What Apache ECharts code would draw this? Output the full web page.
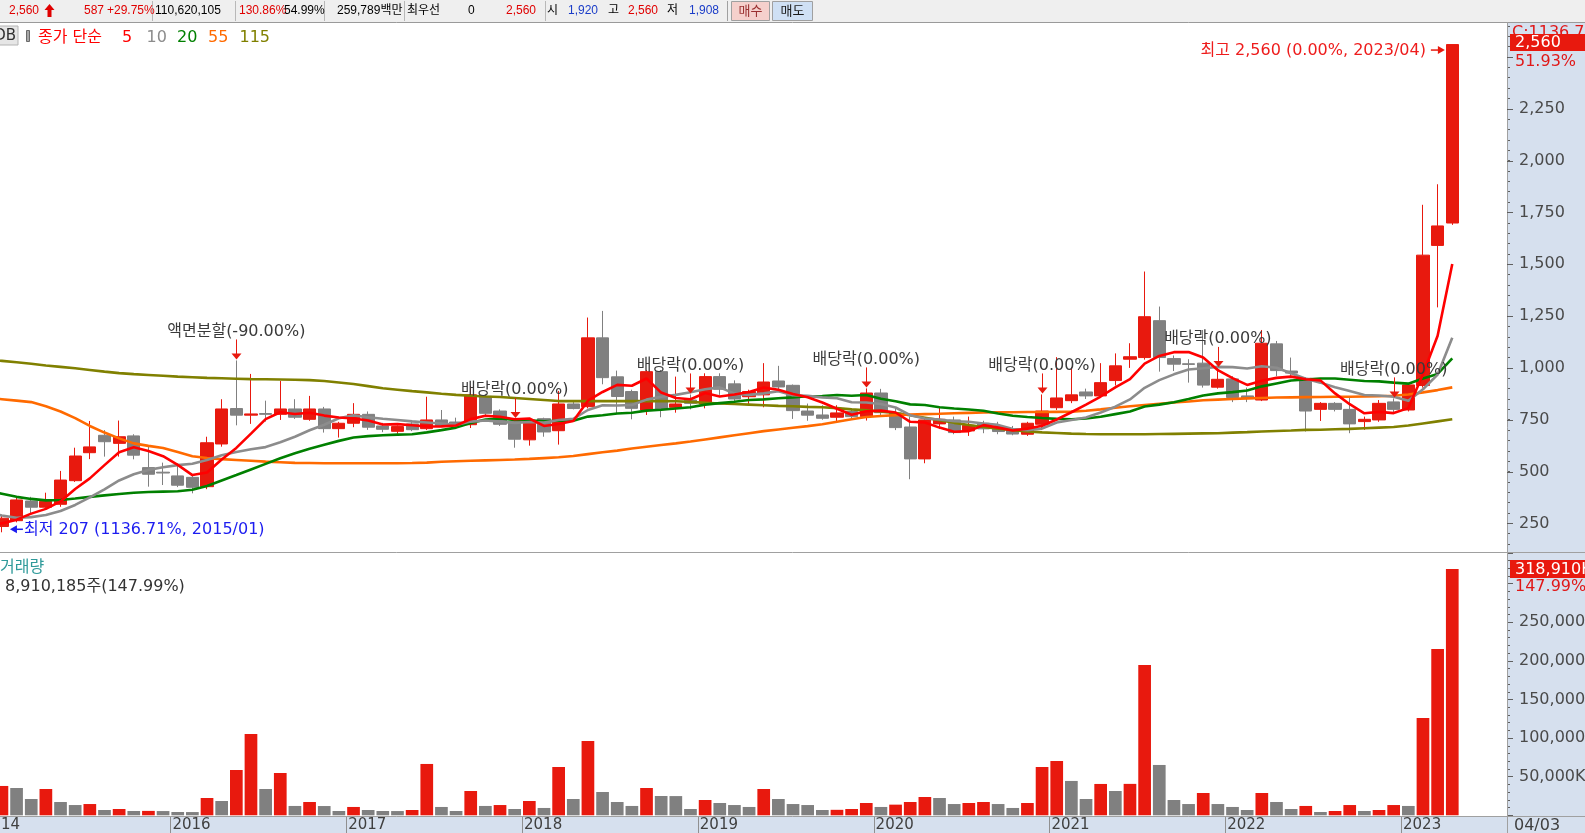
<!DOCTYPE html>
<html>
<head>
<meta charset="utf-8">
<title>월봉 차트</title>
<script src="https://cdn.jsdelivr.net/npm/echarts@6.0.0/dist/echarts.min.js"></script>
<style>
  html, body { margin: 0; padding: 0; background: #fff; overflow: hidden; }
  #chart { width: 1585px; height: 833px; }
</style>
</head>
<body>
<div id="chart"></div>
<script>
// monthly slots; 2014/12 sits just off the left edge (only its year label shows)
const months = ['2014/12'];
for (let y = 2015; y <= 2023; y++) {
  for (let m = 1; m <= 12; m++) {
    if (y === 2023 && m > 4) break;
    months.push(y + '/' + (m < 10 ? '0' + m : m));
  }
}
const emptySlots = [' ', '  ', '   '];

// candles, one row per year (2015 .. 2023/04)
const open = [null,
  235, 263, 358, 328, 342, 456, 591, 675, 636, 672, 519, 497,
  479, 472, 427, 633, 804, 772, 780, 776, 802, 752, 802, 707,
  733, 776, 720, 694, 730, 707, 749, 739, 726, 863, 792, 741,
  653, 755, 697, 826, 813, 1145, 957, 886, 797, 982, 810, 845,
  826, 958, 923, 861, 870, 937, 916, 792, 773, 762, 790, 765,
  879, 783, 715, 561, 730, 749, 696, 733, 717, 704, 680, 728,
  808, 842, 884, 865, 939, 1042, 1050, 1228, 1045, 1020, 1023, 907,
  947, 865, 845, 1116, 985, 950, 800, 829, 800, 741, 749, 836,
  797, 915, 1591, 1699];
const close = [null,
  275, 363, 328, 356, 459, 575, 619, 644, 668, 579, 487, 493,
  434, 424, 639, 802, 772, 778, 776, 802, 762, 802, 707, 733,
  776, 714, 704, 717, 702, 749, 720, 723, 870, 781, 728, 656,
  744, 691, 826, 804, 1145, 953, 862, 805, 982, 802, 826, 829,
  958, 897, 850, 886, 932, 908, 794, 772, 757, 783, 765, 879,
  784, 712, 561, 749, 752, 688, 723, 706, 693, 681, 733, 792,
  855, 870, 865, 929, 1010, 1054, 1247, 1050, 1018, 1017, 917, 945,
  857, 852, 1119, 987, 975, 792, 829, 800, 730, 752, 829, 800,
  918, 1544, 1685, 2560];
const low = [null,
  207, 255, 300, 315, 330, 450, 560, 572, 572, 559, 427, 435,
  425, 395, 415, 620, 723, 730, 741, 749, 754, 745, 688, 664,
  714, 701, 690, 682, 695, 700, 715, 715, 710, 770, 720, 615,
  625, 668, 630, 800, 805, 921, 781, 752, 773, 762, 784, 800,
  805, 870, 830, 820, 810, 890, 754, 745, 750, 740, 755, 746,
  770, 700, 463, 540, 705, 680, 672, 685, 680, 675, 672, 701,
  797, 830, 850, 855, 915, 1000, 1040, 982, 985, 929, 905, 900,
  835, 835, 840, 960, 960, 693, 744, 790, 685, 701, 740, 778,
  790, 905, 1292, 1690];
const high = [null,
  290, 382, 378, 398, 503, 615, 744, 700, 746, 680, 620, 543,
  540, 485, 668, 849, 1036, 971, 842, 937, 849, 865, 812, 740,
  830, 790, 735, 722, 740, 861, 797, 760, 913, 875, 800, 753,
  750, 760, 889, 835, 1243, 1275, 987, 895, 990, 990, 958, 872,
  974, 974, 940, 895, 1023, 1010, 920, 828, 820, 820, 805, 901,
  899, 810, 765, 755, 813, 765, 765, 745, 740, 720, 740, 872,
  1052, 1003, 900, 1023, 1070, 1119, 1465, 1296, 1060, 1042, 1183, 1000,
  960, 905, 1183, 1130, 1050, 955, 835, 835, 861, 765, 845, 853,
  925, 1787, 1886, 2560];

// volume in thousand shares (K)
const volume = [null,
  38000, 35400, 21100, 34100, 17200, 13300, 14600, 6900, 8200, 5600, 5700, 5500,
  4300, 4200, 22400, 18500, 58700, 105300, 34100, 54800, 12100, 17200, 12000, 5600,
  10800, 6900, 5600, 5500, 6900, 66500, 10800, 5600, 31500, 12100, 13300, 8200,
  18500, 9500, 62600, 21100, 96300, 30200, 17200, 12100, 35400, 25000, 24900, 8200,
  19800, 15900, 13300, 10800, 34100, 21100, 14600, 13300, 6900, 7100, 8200, 15900,
  10800, 13800, 17200, 23700, 22400, 14600, 15900, 17200, 14600, 9500, 15900, 62600,
  70300, 44500, 21100, 40600, 31500, 40700, 194700, 65200, 19800, 14600, 28900, 14600,
  10800, 6900, 28900, 17200, 8200, 12100, 4300, 5600, 13300, 5600, 6900, 13300,
  12100, 126000, 215400, 318910];

// moving averages (first value = 2014/12)
const ma5 = [245,
  250, 268, 297, 320, 356, 416, 467, 531, 593, 617, 599, 574,
  532, 483, 495, 558, 614, 683, 753, 786, 778, 784, 770, 761,
  756, 746, 727, 729, 723, 717, 718, 722, 753, 769, 764, 752,
  756, 720, 729, 744, 842, 884, 918, 914, 949, 881, 855, 849,
  879, 862, 872, 884, 905, 895, 874, 858, 833, 803, 774, 791,
  794, 785, 740, 737, 712, 692, 695, 724, 712, 698, 707, 721,
  751, 786, 823, 862, 906, 946, 1021, 1058, 1076, 1077, 1050, 989,
  951, 918, 938, 952, 958, 945, 940, 877, 825, 781, 788, 782,
  806, 969, 1155, 1501];
const ma10 = [300,
  288, 277, 280, 290, 310, 339, 375, 414, 457, 487, 508, 521,
  531, 538, 556, 579, 594, 608, 618, 641, 668, 699, 726, 757,
  771, 762, 755, 749, 742, 737, 732, 725, 741, 746, 741, 735,
  739, 736, 749, 754, 797, 820, 819, 821, 847, 861, 870, 883,
  897, 906, 876, 870, 877, 887, 868, 865, 858, 854, 834, 833,
  826, 809, 772, 756, 751, 743, 740, 732, 725, 705, 700, 708,
  737, 749, 761, 785, 813, 848, 904, 941, 969, 992, 998, 1005,
  1004, 997, 1008, 1001, 974, 948, 929, 907, 889, 869, 867, 861,
  841, 897, 968, 1145];
const ma20 = [405,
  393, 378, 368, 361, 363, 370, 378, 385, 392, 398, 401, 403,
  405, 412, 430, 457, 483, 510, 537, 564, 588, 610, 629, 648,
  664, 671, 675, 678, 680, 689, 700, 712, 734, 751, 756, 749,
  747, 743, 745, 745, 765, 772, 780, 784, 794, 798, 804, 810,
  823, 830, 837, 845, 848, 854, 858, 863, 864, 869, 866, 869,
  851, 839, 824, 821, 810, 804, 799, 793, 780, 769, 763, 758,
  754, 752, 756, 764, 777, 790, 814, 823, 834, 850, 867, 877,
  883, 891, 911, 925, 939, 944, 949, 949, 943, 937, 935, 929,
  924, 949, 971, 1046];
const ma55 = [855,
  849, 842, 835, 815, 790, 758, 720, 688, 660, 636, 624, 614,
  594, 574, 565, 560, 556, 552, 548, 545, 542, 541, 540, 540,
  540, 540, 540, 540, 541, 543, 547, 550, 552, 554, 556, 558,
  561, 565, 569, 575, 584, 593, 601, 611, 620, 628, 636, 645,
  655, 665, 675, 685, 695, 703, 711, 719, 728, 740, 752, 763,
  768, 772, 775, 777, 779, 781, 783, 785, 786, 786, 787, 787,
  788, 789, 793, 800, 808, 815, 821, 827, 833, 838, 844, 847,
  850, 853, 855, 857, 858, 859, 860, 861, 861, 862, 863, 866,
  872, 882, 893, 906];
const ma115 = [1040,
  1034, 1027, 1020, 1012, 1005, 998, 990, 982, 975, 970, 966, 962,
  958, 955, 952, 950, 948, 946, 945, 944, 943, 941, 937, 930,
  922, 912, 902, 895, 888, 882, 875, 870, 866, 862, 860, 855,
  850, 845, 840, 840, 840, 840, 840, 840, 840, 840, 839, 836,
  832, 828, 826, 823, 820, 817, 815, 812, 810, 806, 800, 795,
  790, 782, 772, 760, 748, 735, 725, 715, 707, 700, 694, 689,
  686, 683, 681, 680, 680, 680, 680, 681, 682, 683, 684, 685,
  688, 690, 693, 696, 698, 701, 702, 704, 706, 709, 712, 715,
  722, 732, 742, 752];

const maNames = ['115', '55', '20', '10', '5'];
const maColors = ['#808000', '#ff6a00', '#008000', '#8c8c8c', '#ff0000'];
const maData = [ma115, ma55, ma20, ma10, ma5];

// event markers
const eventMonths = ['2016/05', '2017/12', '2018/12', '2019/12', '2020/12', '2021/12', '2022/12'];
const eventTexts = ['액면분할(-90.00%)', '배당락(0.00%)', '배당락(0.00%)', '배당락(0.00%)',
  '배당락(0.00%)', '배당락(0.00%)', '배당락(0.00%)'];
const yearMonths = ['2014/12', '2016/01', '2017/01', '2018/01', '2019/01', '2020/01', '2021/01', '2022/01', '2023/01'];
const yearLabels = ['2014', '2016', '2017', '2018', '2019', '2020', '2021', '2022', '2023'];

const RED = '#e8190e';
const GRAY = '#808080';
const FONT = '"DejaVu Sans", "Noto Sans CJK KR", sans-serif';
const SMALL = '"Liberation Sans", "Noto Sans CJK KR", sans-serif';

const cats = months.concat(emptySlots);
const candles = months.map((m, k) => open[k] == null ? '-' : [open[k], close[k], low[k], high[k]]);
const volBars = volume.map((v, k) => {
  if (v == null) return '-';
  const up = k === 1 || v > volume[k - 1];
  return { value: v, itemStyle: { color: up ? RED : GRAY } };
});

const chart = echarts.init(document.getElementById('chart'));

const option = {
  animation: false,
  backgroundColor: '#ffffff',
  grid: [
    { left: -20.05, top: 25.9, width: 1523.6, height: 518.2, outerBoundsMode: 'none' },
    { left: -20.05, top: 552.8, width: 1523.6, height: 262.5, outerBoundsMode: 'none' }
  ],
  xAxis: [
    { type: 'category', gridIndex: 0, data: cats, boundaryGap: true, show: false },
    { type: 'category', gridIndex: 1, data: cats, boundaryGap: true, show: false }
  ],
  yAxis: [
    {
      type: 'value', gridIndex: 0, position: 'right', offset: 3.45,
      min: 150, max: 2650, interval: 50,
      axisLine: { show: false },
      axisTick: { show: true, length: 3, lineStyle: { color: '#606060' } },
      splitLine: { show: false },
      axisLabel: {
        margin: 12, color: '#4a4a4a', fontSize: 16, fontFamily: FONT,
        formatter: v => (v % 250 === 0 && v >= 250 && v <= 2250) ? v.toLocaleString('en-US') : ''
      }
    },
    {
      type: 'value', gridIndex: 1, position: 'right', offset: 3.45,
      min: 0, max: 340000, interval: 50000,
      axisLine: { show: false },
      axisTick: { show: true, length: 6, lineStyle: { color: '#606060' } },
      minorTick: { show: true, splitNumber: 5, length: 3, lineStyle: { color: '#606060' } },
      splitLine: { show: false },
      axisLabel: {
        margin: 12, color: '#4a4a4a', fontSize: 16, fontFamily: FONT,
        formatter: v => (v >= 50000 && v <= 250000) ? v.toLocaleString('en-US') + 'K' : ''
      }
    }
  ],
  series: [
    {
      type: 'candlestick', name: '가격', xAxisIndex: 0, yAxisIndex: 0,
      data: candles, barWidth: 12.7,
      itemStyle: { color: RED, color0: GRAY, borderColor: RED, borderColor0: GRAY, borderWidth: 1 }
    },
    ...maData.map((d, i) => ({
      type: 'line', name: 'MA' + maNames[i], xAxisIndex: 0, yAxisIndex: 0,
      data: d, symbol: 'none', smooth: false,
      lineStyle: { color: maColors[i], width: 2.6 }, z: 3
    })),
    {
      type: 'bar', name: '거래량', xAxisIndex: 1, yAxisIndex: 1,
      data: volBars, barWidth: 12.7
    }
  ]
};
chart.setOption(option);

// ---- overlay: frame, labels, markers (placed through the chart's own scales) ----
const P = (k, v) => chart.convertToPixel({ gridIndex: 0 }, [k, v]);
const V = (k, v) => chart.convertToPixel({ gridIndex: 1 }, [k, v]);
const slot = P(1, 1000)[0] - P(0, 1000)[0];
const g = [];
const text = (x, y, s, color, font, align, z) => g.push({
  type: 'text', x: x, y: y, z: z || 20, silent: true,
  style: { text: s, fill: color, font: font, textAlign: align || 'left', textVerticalAlign: 'middle' }
});
const rect = (x, y, w, h, fill, stroke, z) => g.push({
  type: 'rect', z: z == null ? -1 : z, silent: true,
  shape: { x: x, y: y, width: w, height: h },
  style: { fill: fill, stroke: stroke || null, lineWidth: 1 }
});
const line = (x1, y1, x2, y2, color, w, z) => g.push({
  type: 'line', z: z == null ? 5 : z, silent: true,
  shape: { x1: x1, y1: y1, x2: x2, y2: y2 },
  style: { stroke: color, lineWidth: w || 1 }
});
const poly = (pts, color, z) => g.push({
  type: 'polygon', z: z || 20, silent: true, shape: { points: pts }, style: { fill: color }
});

// panels
rect(0, 0, 1585, 22, '#efefef');
rect(1507, 22, 78, 811, '#d6e0ee');
rect(0, 816, 1585, 17, '#d6e0ee');
line(0, 22.5, 1585, 22.5, '#9a9a9a', 1, 5);
line(0, 552.5, 1585, 552.5, '#a0a0a0', 1, 5);
line(0, 816.5, 1585, 816.5, '#a0a0a0', 1, 5);
line(1507.5, 22, 1507.5, 833, '#a0a0a0', 1, 5);

// long ticks on the price scale
for (let v = 250; v <= 2500; v += 250) {
  const y = Math.round(P(0, v)[1]) + 0.5;
  line(1507, y, 1513, y, '#606060', 1, 6);
}

// year dividers and labels
yearMonths.forEach((m, i) => {
  const k = months.indexOf(m);
  const xs = P(k, 1000)[0] - slot / 2;
  line(Math.round(xs) + 0.5, 817, Math.round(xs) + 0.5, 833, '#909090', 1, 5);
  text(xs + 2, 825.5, yearLabels[i], '#404040', '15px ' + FONT);
});
text(1514, 825.5, '04/03', '#404040', '16px ' + FONT);

// ex-dividend / split markers
eventMonths.forEach((m, i) => {
  const k = months.indexOf(m);
  const p = P(k, high[k]);
  const x = Math.round(p[0]) + 0.5;
  const tip = p[1] - 1;
  line(x, tip - 20, x, tip - 5, RED, 1, 20);
  poly([[x - 5, tip - 6], [x + 5, tip - 6], [x, tip]], RED);
  text(p[0], tip - 28, eventTexts[i], '#3a3a3a', '16px ' + FONT, 'center');
});

// highest / lowest notes
(function () {
  const k = months.length - 1;
  const p = P(k, high[k]);
  const tip = p[0] - 7.4;
  const y = p[1] + 5.5;
  line(tip - 14, y, tip - 5, y, RED, 1.5, 20);
  poly([[tip - 7, y - 4], [tip - 7, y + 4], [tip, y]], RED);
  text(tip - 19, y + 1, '최고 2,560 (0.00%, 2023/04)', '#ee1c1c', '16px ' + FONT, 'right');

  const q = P(1, low[1]);
  const t2 = q[0] + 8;
  const y2 = q[1] - 3;
  line(t2 + 5, y2, t2 + 13, y2, '#1c1cf0', 1.5, 20);
  poly([[t2, y2], [t2 + 7, y2 - 4], [t2 + 7, y2 + 4]], '#1c1cf0');
  text(t2 + 14, y2 + 1, '최저 207 (1136.71%, 2015/01)', '#1c1cf0', '16px ' + FONT);
})();

// current value boxes on the scales
(function () {
  const k = months.length - 1;
  const yp = P(k, close[k])[1];
  text(1512, yp - 12, 'C:1136.71%', '#e01818', '16px ' + FONT, 'left', 21);
  rect(1510, yp - 10.5, 76, 17, RED, null, 22);
  text(1515, yp - 1.5, '2,560', '#ffffff', '16px ' + FONT, 'left', 23);
  text(1515, yp + 17, '51.93%', '#e01818', '16px ' + FONT, 'left', 23);

  const yv = V(k, volume[k])[1];
  rect(1510, yv - 9, 76, 18, RED, null, 22);
  text(1515, yv + 0.5, '318,910K', '#ffffff', '16px ' + FONT, 'left', 23);
  text(1515, yv + 17.5, '147.99%', '#e01818', '16px ' + FONT, 'left', 23);
})();

// legend row
rect(-2, 26, 20, 19, '#e6e6e6', '#b4b4b4', 6);
text(16, 36, 'DB', '#303030', '15px ' + FONT, 'right');
rect(26.5, 30.5, 3, 11, '#a8a8a8', '#6a6a6a', 6);
text(38, 37.5, '종가 단순', '#ff0000', '16px ' + FONT);
text(122, 37.5, '5', '#ff0000', '16px ' + FONT);
text(146.5, 37.5, '10', '#8c8c8c', '16px ' + FONT);
text(177, 37.5, '20', '#008000', '16px ' + FONT);
text(208, 37.5, '55', '#ff6a00', '16px ' + FONT);
text(239.5, 37.5, '115', '#808000', '16px ' + FONT);

// volume pane title
text(0, 568, '거래량', '#2f9a9a', '16px ' + FONT);
text(5, 587, '8,910,185주(147.99%)', '#333333', '16px ' + FONT);

// quote strip at the top
const S = '12px ' + SMALL;
[152, 235, 324, 404, 545].forEach(x => line(x + 0.5, 1, x + 0.5, 21, '#b8b8b8', 1, 5));
line(727.5, 1, 727.5, 21, '#a0a0a0', 1, 5);
text(9, 11, '2,560', '#e00000', S);
poly([[49.5, 4], [54.5, 10], [51.5, 10], [51.5, 17], [47.5, 17], [47.5, 10], [44.5, 10]], '#e00000');
text(84, 11, '587', '#e00000', S);
text(107, 11, '+29.75%', '#e00000', S);
text(155, 11, '110,620,105', '#000000', S);
text(239, 11, '130.86%', '#e00000', S);
text(284, 11, '54.99%', '#000000', S);
text(337, 11, '259,789백만', '#000000', S);
text(407, 11, '최우선', '#000000', S);
text(468, 11, '0', '#000000', S);
text(506, 11, '2,560', '#e00000', S);
text(547, 11, '시', '#000000', S);
text(568, 11, '1,920', '#1a3cc8', S);
text(608, 11, '고', '#000000', S);
text(628, 11, '2,560', '#e00000', S);
text(667, 11, '저', '#000000', S);
text(689, 11, '1,908', '#1a3cc8', S);
rect(731.5, 1.5, 38, 19, '#f5d0cc', '#a0a0a0', 5);
text(750.5, 11, '매수', '#9a3030', '13px ' + SMALL, 'center');
rect(772.5, 1.5, 40, 19, '#cfe0f4', '#a0a0a0', 5);
text(792.5, 11, '매도', '#1a1a1a', '13px ' + SMALL, 'center');

chart.setOption({ graphic: { elements: g } });
</script>
</body>
</html>
